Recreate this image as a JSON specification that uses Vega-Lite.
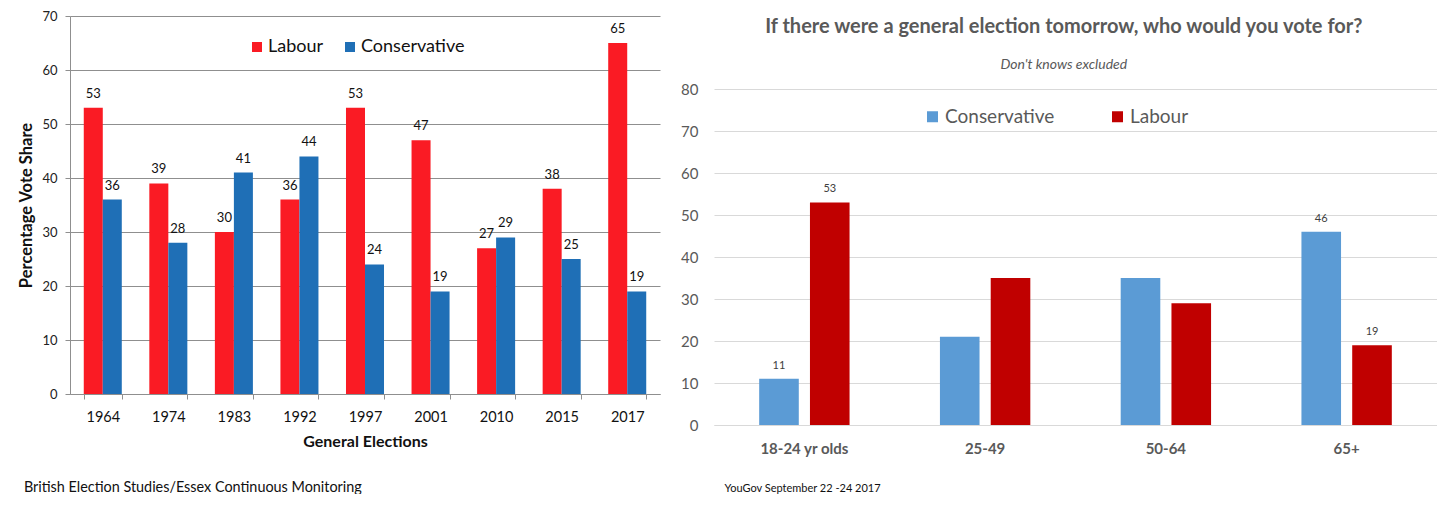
{
  "$schema": "https://vega.github.io/schema/vega-lite/v6.json",
  "background": "white",
  "padding": {"left": 18, "top": 10, "right": 0, "bottom": 0},
  "config": {
    "font": "Lato",
    "view": {"stroke": null}
  },
  "datasets": {
    "elections": [
      {"year": "1964", "party": "Labour", "share": 53},
      {"year": "1964", "party": "Conservative", "share": 36},
      {"year": "1974", "party": "Labour", "share": 39},
      {"year": "1974", "party": "Conservative", "share": 28},
      {"year": "1983", "party": "Labour", "share": 30},
      {"year": "1983", "party": "Conservative", "share": 41},
      {"year": "1992", "party": "Labour", "share": 36},
      {"year": "1992", "party": "Conservative", "share": 44},
      {"year": "1997", "party": "Labour", "share": 53},
      {"year": "1997", "party": "Conservative", "share": 24},
      {"year": "2001", "party": "Labour", "share": 47},
      {"year": "2001", "party": "Conservative", "share": 19},
      {"year": "2010", "party": "Labour", "share": 27},
      {"year": "2010", "party": "Conservative", "share": 29},
      {"year": "2015", "party": "Labour", "share": 38},
      {"year": "2015", "party": "Conservative", "share": 25},
      {"year": "2017", "party": "Labour", "share": 65},
      {"year": "2017", "party": "Conservative", "share": 19}
    ],
    "yougov": [
      {"age": "18-24 yr olds", "party": "Conservative", "share": 11, "labelled": true},
      {"age": "18-24 yr olds", "party": "Labour", "share": 53, "labelled": true},
      {"age": "25-49", "party": "Conservative", "share": 21, "labelled": false},
      {"age": "25-49", "party": "Labour", "share": 35, "labelled": false},
      {"age": "50-64", "party": "Conservative", "share": 35, "labelled": false},
      {"age": "50-64", "party": "Labour", "share": 29, "labelled": false},
      {"age": "65+", "party": "Conservative", "share": 46, "labelled": true},
      {"age": "65+", "party": "Labour", "share": 19, "labelled": true}
    ]
  },
  "spacing": 20,
  "hconcat": [
    {
      "width": 590,
      "height": 378,
      "data": {"name": "elections"},
      "title": {
        "text": "British Election Studies/Essex Continuous Monitoring",
        "orient": "bottom",
        "anchor": "start",
        "frame": "bounds",
        "dx": 5,
        "fontSize": 14.4,
        "fontWeight": "normal",
        "color": "#111",
        "offset": 31
      },
      "encoding": {
        "x": {
          "field": "year",
          "type": "nominal",
          "sort": null,
          "scale": {"paddingInner": 0.42, "paddingOuter": 0.21},
          "axis": {
            "title": "General Elections",
            "titleFontSize": 16,
            "titleFontWeight": "bold",
            "titleColor": "#111",
            "titlePadding": 10,
            "labelAngle": 0,
            "labelFontSize": 14.5,
            "labelColor": "#111",
            "labelPadding": 11,
            "tickBand": "extent",
            "tickSize": 5,
            "tickColor": "#8f8f8f",
            "domainColor": "#8f8f8f"
          }
        },
        "xOffset": {
          "field": "party",
          "type": "nominal",
          "sort": ["Labour", "Conservative"],
          "scale": {"paddingInner": 0, "paddingOuter": 0}
        },
        "y": {
          "field": "share",
          "type": "quantitative",
          "scale": {"domain": [0, 70], "nice": false},
          "axis": {
            "title": "Percentage Vote Share",
            "titleFontSize": 16.5,
            "titleFontWeight": "bold",
            "titleColor": "#111",
            "titlePadding": 7,
            "labelFontSize": 13,
            "labelColor": "#222",
            "labelPadding": 8,
            "tickSize": 5,
            "tickColor": "#8f8f8f",
            "domainColor": "#8f8f8f",
            "gridColor": "#8f8f8f",
            "values": [0, 10, 20, 30, 40, 50, 60, 70]
          }
        }
      },
      "layer": [
        {
          "mark": {"type": "bar"},
          "encoding": {
            "color": {
              "field": "party",
              "type": "nominal",
              "scale": {"domain": ["Labour", "Conservative"], "range": ["#fa1b24", "#1f6fb6"]},
              "legend": {
                "title": null,
                "orient": "none",
                "direction": "horizontal",
                "legendX": 178,
                "legendY": 22,
                "padding": 0,
                "symbolType": "square",
                "symbolSize": 100,
                "symbolStrokeWidth": 0,
                "labelFontSize": 18,
                "labelColor": "#111",
                "labelOffset": 2,
                "columnPadding": 17
              }
            }
          }
        },
        {
          "mark": {"type": "text", "baseline": "bottom", "dy": -7, "fontSize": 13, "color": "#111"},
          "encoding": {"text": {"field": "share", "type": "quantitative"}}
        }
      ]
    },
    {
      "width": 723,
      "height": 409,
      "data": {"name": "yougov"},
      "title": {
        "text": "If there were a general election tomorrow, who would you vote for?",
        "subtitle": "Don't knows excluded",
        "anchor": "middle",
        "frame": "bounds",
        "dx": 5,
        "fontSize": 20,
        "fontWeight": "bold",
        "color": "#595959",
        "subtitleFontSize": 14,
        "subtitleFontStyle": "italic",
        "subtitleColor": "#595959",
        "subtitlePadding": 21,
        "offset": -56
      },
      "encoding": {
        "x": {
          "field": "age",
          "type": "nominal",
          "sort": null,
          "scale": {"paddingInner": 0.5, "paddingOuter": 0.25},
          "axis": {
            "title": "YouGov September 22 -24 2017",
            "titleFontSize": 11,
            "titleFontWeight": "normal",
            "titleColor": "#111",
            "titleAlign": "left",
            "titleX": 10,
            "titleY": 57,
            "labelAngle": 0,
            "labelFontSize": 15,
            "labelFontWeight": "bold",
            "labelColor": "#595959",
            "labelPadding": 16,
            "ticks": false,
            "domainColor": "#d9d9d9"
          }
        },
        "xOffset": {
          "field": "party",
          "type": "nominal",
          "sort": ["Conservative", "Labour"],
          "scale": {"paddingInner": 0.22, "paddingOuter": 0}
        },
        "y": {
          "field": "share",
          "type": "quantitative",
          "scale": {"domain": [0, 97.4], "nice": false},
          "axis": {
            "title": null,
            "labelFontSize": 15,
            "labelColor": "#595959",
            "labelPadding": 16,
            "domain": false,
            "ticks": false,
            "gridColor": "#d9d9d9",
            "values": [0, 10, 20, 30, 40, 50, 60, 70, 80]
          }
        }
      },
      "layer": [
        {
          "mark": {"type": "bar"},
          "encoding": {
            "color": {
              "field": "party",
              "type": "nominal",
              "scale": {"domain": ["Conservative", "Labour"], "range": ["#5b9bd5", "#c00000"]},
              "legend": {
                "title": null,
                "orient": "none",
                "direction": "horizontal",
                "legendX": 209,
                "legendY": 91,
                "padding": 0,
                "symbolType": "square",
                "symbolSize": 121,
                "symbolStrokeWidth": 0,
                "labelFontSize": 19,
                "labelColor": "#595959",
                "labelOffset": 3,
                "columnPadding": 53
              }
            }
          }
        },
        {
          "transform": [{"filter": "datum.labelled"}],
          "mark": {"type": "text", "baseline": "bottom", "dy": -8, "fontSize": 11, "color": "#404040"},
          "encoding": {"text": {"field": "share", "type": "quantitative"}}
        }
      ]
    }
  ],
  "resolve": {"scale": {"color": "independent", "x": "independent", "y": "independent", "xOffset": "independent"}}
}
